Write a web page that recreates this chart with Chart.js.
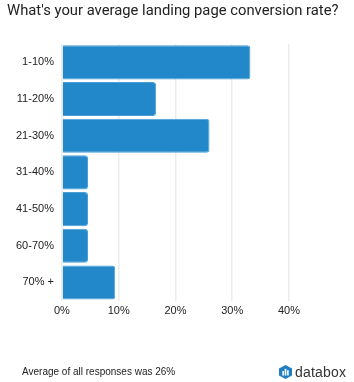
<!DOCTYPE html>
<html><head><meta charset="utf-8">
<script src="https://cdn.jsdelivr.net/npm/chart.js@4"></script>
<style>
html,body{margin:0;padding:0;background:#fff;width:354px;height:382px;overflow:hidden;font-family:Roboto,"Liberation Sans",Arial,sans-serif;}
#wrap{position:absolute;left:0;top:0;width:354px;height:382px;}
#title{position:absolute;left:7px;top:1px;font-size:14.8px;color:#222;font-family:Roboto,sans-serif;white-space:nowrap;}
#foot{position:absolute;left:22px;top:366px;font-size:10px;color:#222;font-family:"Liberation Sans",Arial,sans-serif;}
#logo{position:absolute;left:279px;top:364px;display:flex;align-items:center;font-size:14px;color:#333;font-family:"Liberation Sans",Arial,sans-serif;letter-spacing:0.2px;}
</style></head><body>
<div id="wrap"><canvas id="c" width="354" height="382"></canvas></div>
<div id="title"></div>
<div id="foot">Average of all responses was 26%</div>
<div id="logo"><svg width="13" height="14" viewBox="0 0 13 14" style="margin-right:3px"><path d="M6.5 0 L13 3.5 L13 10.5 L6.5 14 L0 10.5 L0 3.5 Z" fill="#1f7fc4"/><rect x="3.3" y="6" width="1.6" height="4.5" fill="#fff"/><rect x="5.7" y="3.8" width="1.6" height="6.7" fill="#fff"/><rect x="8.1" y="5.2" width="1.6" height="5.3" fill="#fff"/></svg>databox</div>
<script>
const categories = ["1-10%","11-20%","21-30%","31-40%","41-50%","60-70%","70% +"];
const values = [33.2, 16.6, 26.0, 4.6, 4.6, 4.6, 9.4];
const xTicks = [0,10,20,30,40];
const titleText = "What's your average landing page conversion rate?";
document.getElementById('title').textContent = titleText;

new Chart(document.getElementById('c'), {
  type: 'bar',
  data: {
    labels: categories,
    datasets: [{
      data: values,
      backgroundColor: '#2388c9',
      borderColor: '#4a9fd6',
      borderWidth: 1,
      borderRadius: 3,
      borderSkipped: 'start',
      barPercentage: 0.93,
      categoryPercentage: 1.0
    }]
  },
  options: {
    indexAxis: 'y',
    responsive: false,
    animation: false,
    devicePixelRatio: 1,
    layout: { padding: { left: 8, right: 65, top: 44, bottom: 60 } },
    plugins: {
      legend: { display: false },
      tooltip: { enabled: false },
      title: { display: false }
    },
    scales: {
      x: {
        min: 0, max: 40,
        afterBuildTicks: (s) => { s.ticks = xTicks.map(v => ({ value: v })); },
        ticks: { callback: v => v + '%', color: '#222', font: { family: 'Liberation Sans', size: 11 }, padding: 4 },
        grid: { color: '#ececec', lineWidth: 1.5, drawTicks: false },
        border: { display: false }
      },
      y: {
        ticks: { color: '#222', font: { family: 'Liberation Sans', size: 11 }, padding: 8 },
        grid: { display: false, drawTicks: false },
        border: { display: false }
      }
    }
  }
});
</script>
</body></html>
